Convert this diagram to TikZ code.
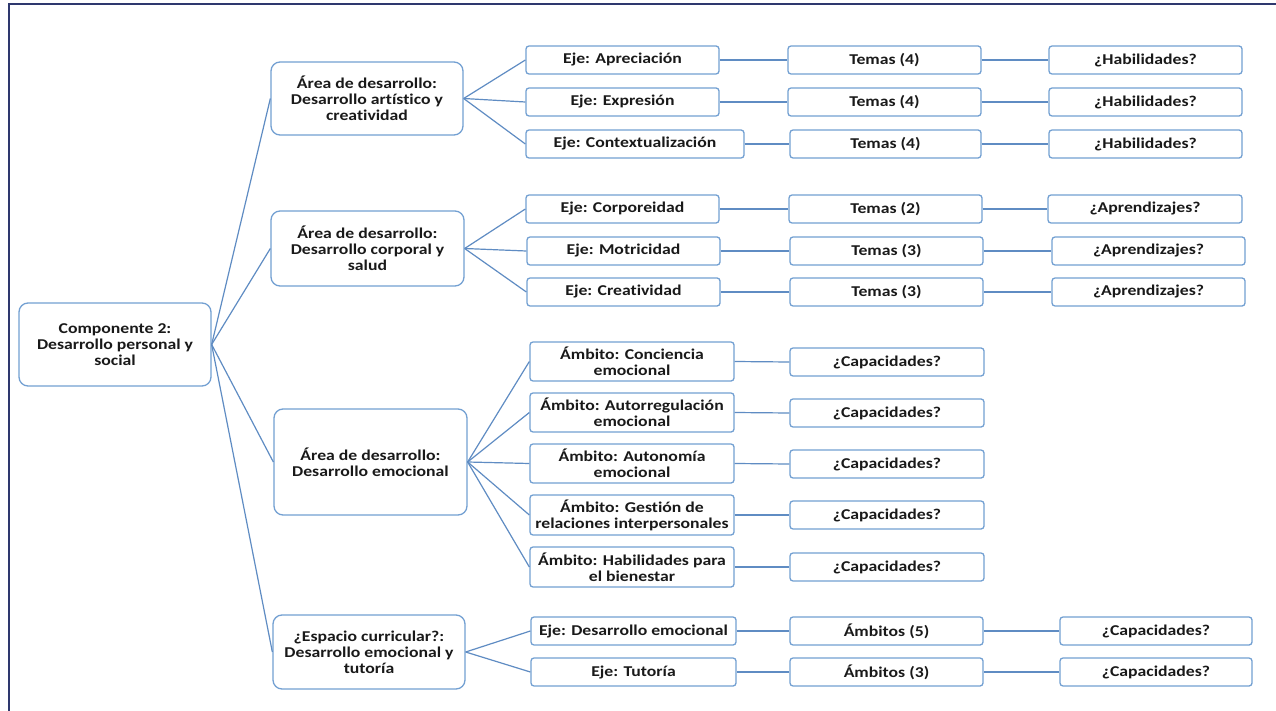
\documentclass[tikz,border=0pt]{standalone}
\usepackage{fontspec}
\setmainfont{Carlito}
\newfontfamily\cfont[FakeStretch=1.18,Ligatures=NoCommon]{Carlito Bold}
\definecolor{boxc}{RGB}{115,160,210}
\definecolor{linec}{RGB}{95,140,195}
\definecolor{framec}{RGB}{46,56,110}
\definecolor{txtc}{RGB}{25,25,25}
\begin{document}
\begin{tikzpicture}[x=1pt,y=-1pt,
  bigbox/.style={draw=boxc, line width=1.3pt, rounded corners=9pt, fill=white, align=center, inner sep=0pt,
    text=txtc, font=\cfont\fontsize{15}{16}\selectfont},
  sbox/.style={draw=boxc, line width=1.3pt, rounded corners=3pt, fill=white, align=center, inner sep=0pt,
    text=txtc, minimum height=28pt, font=\cfont\fontsize{15}{16}\selectfont},
  conn/.style={draw=linec, line width=1.2pt}]
\useasboundingbox (0,0) rectangle (1276,711);
\fill[white] (0,0) rectangle (1276,711);
\draw[framec, line width=1.5pt] (9,711) -- (9,4) -- (1276,4);

% root and areas
\node[bigbox, minimum width=192pt, minimum height=83pt] (root) at (115,344.5) {Componente 2:\\Desarrollo personal y\\social};
\node[bigbox, minimum width=192pt, minimum height=73pt] (a1) at (367,98.5) {Área de desarrollo:\\Desarrollo artístico y\\creatividad};
\node[bigbox, minimum width=193pt, minimum height=75pt] (a2) at (367.5,248.5) {Área de desarrollo:\\Desarrollo corporal y\\salud};
\node[bigbox, minimum width=193pt, minimum height=106pt] (a3) at (370.5,462) {Área de desarrollo:\\Desarrollo emocional};
\node[bigbox, minimum width=192pt, minimum height=74pt] (a4) at (369,652) {¿Espacio curricular?:\\Desarrollo emocional y\\tutoría};

% area 1
\node[sbox, minimum width=193pt] (a1e1) at (622.5,60) {Eje: Apreciación};
\node[sbox, minimum width=193pt] (a1e2) at (622.5,102) {Eje: Expresión};
\node[sbox, minimum width=218pt] (a1e3) at (635,144) {Eje: Contextualización};
\node[sbox, minimum width=193pt] (a1t1) at (884.5,60) {Temas (4)};
\node[sbox, minimum width=193pt] (a1t2) at (884.5,102) {Temas (4)};
\node[sbox, minimum width=191pt] (a1t3) at (885.5,144) {Temas (4)};
\node[sbox, minimum width=193pt] (a1h1) at (1145.5,60) {¿Habilidades?};
\node[sbox, minimum width=193pt] (a1h2) at (1145.5,102) {¿Habilidades?};
\node[sbox, minimum width=193pt] (a1h3) at (1145.5,144) {¿Habilidades?};

% area 2
\node[sbox, minimum width=193pt] (a2e1) at (622.5,209) {Eje: Corporeidad};
\node[sbox, minimum width=193pt] (a2e2) at (623.5,251) {Eje: Motricidad};
\node[sbox, minimum width=193pt] (a2e3) at (623.5,292) {Eje: Creatividad};
\node[sbox, minimum width=193pt] (a2t1) at (885.5,209) {Temas (2)};
\node[sbox, minimum width=193pt] (a2t2) at (886.5,251) {Temas (3)};
\node[sbox, minimum width=193pt] (a2t3) at (886.5,292) {Temas (3)};
\node[sbox, minimum width=194pt] (a2h1) at (1145,209) {¿Aprendizajes?};
\node[sbox, minimum width=193pt] (a2h2) at (1148.5,251) {¿Aprendizajes?};
\node[sbox, minimum width=193pt] (a2h3) at (1148.5,292) {¿Aprendizajes?};

% area 3
\node[sbox, minimum width=204pt, minimum height=39pt] (a3m1) at (632,361.5) {Ámbito: Conciencia\\emocional};
\node[sbox, minimum width=204pt, minimum height=39pt] (a3m2) at (632,412.5) {Ámbito: Autorregulación\\emocional};
\node[sbox, minimum width=204pt, minimum height=39pt] (a3m3) at (632,463.5) {Ámbito: Autonomía\\emocional};
\node[sbox, minimum width=204pt, minimum height=40pt] (a3m4) at (632,515) {Ámbito: Gestión de\\relaciones interpersonales};
\node[sbox, minimum width=204pt, minimum height=40pt] (a3m5) at (632,567) {Ámbito: Habilidades para\\el bienestar};
\node[sbox, minimum width=194pt] (a3c1) at (887,362) {¿Capacidades?};
\node[sbox, minimum width=194pt] (a3c2) at (887,413) {¿Capacidades?};
\node[sbox, minimum width=194pt] (a3c3) at (887,464) {¿Capacidades?};
\node[sbox, minimum width=194pt] (a3c4) at (887,515) {¿Capacidades?};
\node[sbox, minimum width=194pt] (a3c5) at (887,567) {¿Capacidades?};

% area 4
\node[sbox, minimum width=205pt] (a4e1) at (633.5,631) {Eje: Desarrollo emocional};
\node[sbox, minimum width=205pt] (a4e2) at (633.5,672) {Eje: Tutoría};
\node[sbox, minimum width=193pt] (a4t1) at (886.5,631) {Ámbitos (5)};
\node[sbox, minimum width=193pt] (a4t2) at (886.5,672) {Ámbitos (3)};
\node[sbox, minimum width=192pt] (a4c1) at (1156,631) {¿Capacidades?};
\node[sbox, minimum width=192pt] (a4c2) at (1156,672) {¿Capacidades?};

% connectors
\foreach \a in {a1,a2,a3,a4} \draw[conn] (root.east) -- (\a.west);
\foreach \c in {a1e1,a1e2,a1e3} \draw[conn] (a1.east) -- (\c.west);
\foreach \c in {a2e1,a2e2,a2e3} \draw[conn] (a2.east) -- (\c.west);
\foreach \c in {a3m1,a3m2,a3m3,a3m4,a3m5} \draw[conn] (a3.east) -- (\c.west);
\foreach \c in {a4e1,a4e2} \draw[conn] (a4.east) -- (\c.west);
\foreach \i in {1,2,3} {
  \draw[conn] (a1e\i.east) -- (a1t\i.west);
  \draw[conn] (a1t\i.east) -- (a1h\i.west);
  \draw[conn] (a2e\i.east) -- (a2t\i.west);
  \draw[conn] (a2t\i.east) -- (a2h\i.west);
}
\foreach \i in {1,...,5} \draw[conn] (a3m\i.east) -- (a3c\i.west);
\foreach \i in {1,2} {
  \draw[conn] (a4e\i.east) -- (a4t\i.west);
  \draw[conn] (a4t\i.east) -- (a4c\i.west);
}
\end{tikzpicture}
\end{document}
